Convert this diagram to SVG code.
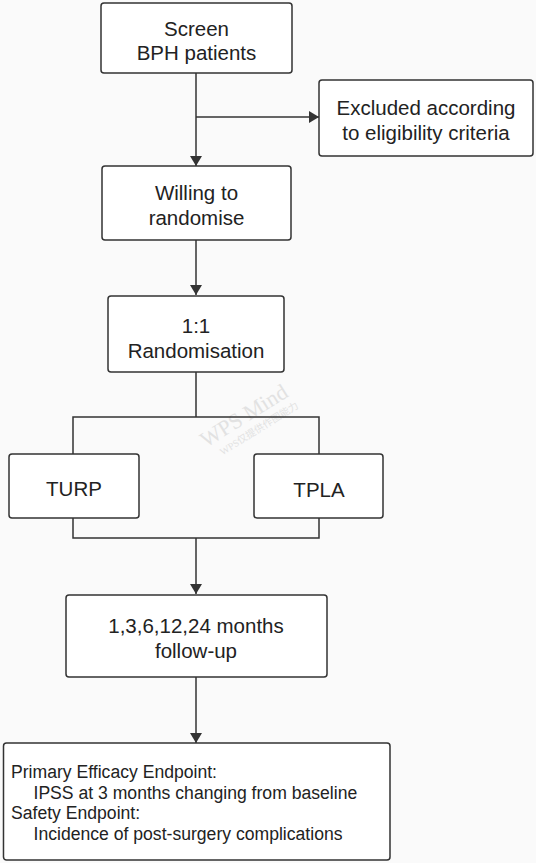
<svg xmlns="http://www.w3.org/2000/svg" width="536" height="863" viewBox="0 0 536 863">
<defs>
<style>
.box{fill:#ffffff;stroke:#333333;stroke-width:1.5}
.t{font-family:"Liberation Sans",Arial,sans-serif;font-size:20.5px;fill:#222222;text-anchor:middle}
.s{font-family:"Liberation Sans",Arial,sans-serif;font-size:17.6px;fill:#222222}
.ln{fill:none;stroke:#333333;stroke-width:1.5}
.wm{font-family:"Liberation Serif","Noto Sans CJK SC",serif;fill:#e2e2e2}
</style>
<marker id="arr" viewBox="0 0 10 14" refX="10" refY="7" markerWidth="10" markerHeight="14" markerUnits="userSpaceOnUse" orient="auto">
<path d="M0,1 L10,7 L0,13 z" fill="#333333"/>
</marker>
</defs>
<rect x="0" y="0" width="536" height="863" fill="#fafafa"/>
<g class="wm" transform="translate(206,448) rotate(-32)">
<text x="0" y="0" font-size="22">WPS Mind</text>
<text x="10" y="15" font-size="10">WPS仅提供作图能力</text>
</g>
<g id="connectors">
<path class="ln" d="M196,73 V166" marker-end="url(#arr)"/>
<path class="ln" d="M196,117 H319" marker-end="url(#arr)"/>
<path class="ln" d="M196,240 V295" marker-end="url(#arr)"/>
<path class="ln" d="M196,372 V417 M73,454 V417 H319 V454"/>
<path class="ln" d="M73,518 V538 H319 V518"/>
<path class="ln" d="M196,538 V594" marker-end="url(#arr)"/>
<path class="ln" d="M196,677 V743" marker-end="url(#arr)"/>
</g>
<g id="screen">
<rect class="box" x="101" y="3" width="191" height="70" rx="3"/>
<text class="t" x="196.5" y="36">Screen</text>
<text class="t" x="196.5" y="60">BPH patients</text>
</g>
<g id="excluded">
<rect class="box" x="319" y="80" width="214" height="76" rx="3"/>
<text class="t" x="426" y="115">Excluded according</text>
<text class="t" x="426" y="140">to eligibility criteria</text>
</g>
<g id="willing">
<rect class="box" x="102" y="166" width="189" height="74" rx="3"/>
<text class="t" x="196.5" y="200">Willing to</text>
<text class="t" x="196.5" y="225">randomise</text>
</g>
<g id="randomisation">
<rect class="box" x="108" y="296" width="176" height="76" rx="3"/>
<text class="t" x="196" y="333">1:1</text>
<text class="t" x="196" y="358">Randomisation</text>
</g>
<g id="turp">
<rect class="box" x="9" y="454" width="130" height="64" rx="3"/>
<text class="t" x="74" y="496">TURP</text>
</g>
<g id="tpla">
<rect class="box" x="254" y="454" width="129" height="64" rx="3"/>
<text class="t" x="319" y="497">TPLA</text>
</g>
<g id="followup">
<rect class="box" x="66" y="595" width="261" height="82" rx="3"/>
<text class="t" x="196" y="633">1,3,6,12,24 months</text>
<text class="t" x="196" y="658">follow-up</text>
</g>
<g id="endpoints">
<rect class="box" x="3.5" y="743" width="386.5" height="117" rx="3"/>
<text class="s" x="11" y="778">Primary Efficacy Endpoint:</text>
<text class="s" x="33.5" y="798.5">IPSS at 3 months changing from baseline</text>
<text class="s" x="11" y="819">Safety Endpoint:</text>
<text class="s" x="33.5" y="840">Incidence of post-surgery complications</text>
</g>
</svg>
